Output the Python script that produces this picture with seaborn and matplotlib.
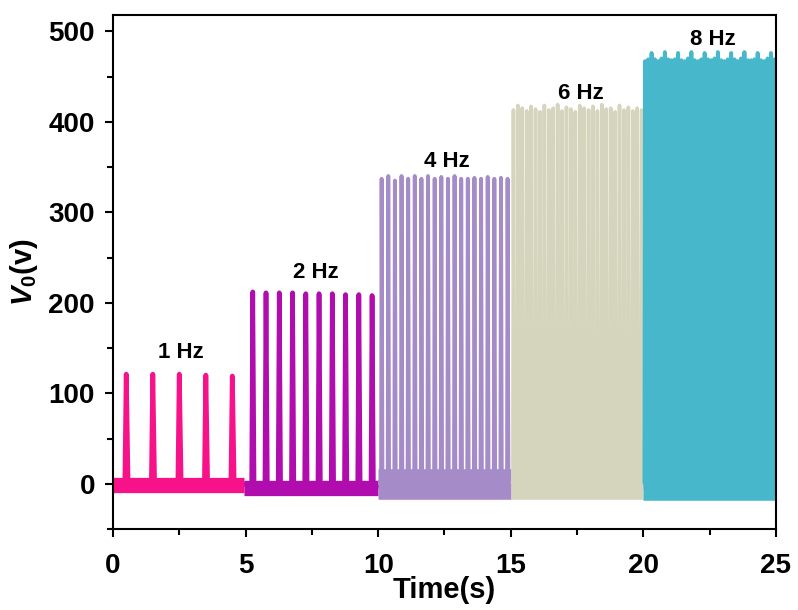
import matplotlib.pyplot as plt
import numpy as np
import pandas as pd
import seaborn as sns
from matplotlib.ticker import MultipleLocator

# --------------------------------------
# Output voltage at different frequencies
# --------------------------------------
freqs = [1, 2, 4, 6, 8]
freq_labels = ["1 Hz", "2 Hz", "4 Hz", "6 Hz", "8 Hz"]
seg_start = [0.0, 4.95, 10.0, 15.0, 20.0]     # s
seg_end = [4.95, 10.0, 15.0, 20.0, 25.0]      # s
first_peak = [0.5, 5.27, 10.13, 15.10, 20.06]  # s

peaks_1hz = [121, 121, 121, 120, 119]
peaks_2hz = [212, 211, 211, 211, 210, 210, 210, 209, 209, 208]
peaks_4hz = [337, 340, 335, 340, 337, 340, 337, 340, 337, 339,
             337, 340, 337, 337, 338, 337, 339, 337, 338, 337]
peaks_6hz = [413, 418, 415, 412, 417, 414, 411, 418, 413, 415,
             419, 412, 416, 414, 411, 418, 415, 413, 417, 412,
             419, 414, 415, 411, 418, 413, 416, 412, 415, 413]
peaks_8hz = [467, 469, 476, 469, 467, 470, 477, 469, 468, 469,
             476, 468, 467, 470, 477, 468, 467, 469, 476, 469,
             468, 470, 477, 468, 467, 469, 476, 469, 467, 470,
             477, 468, 468, 469, 476, 468, 467, 470, 476, 469]
peak_lists = [peaks_1hz, peaks_2hz, peaks_4hz, peaks_6hz, peaks_8hz]

# baseline level just after a spike and just before the next one (V)
base_after = [-7, -9, -4, -4, -6]
base_before = [2, -1, 2, 1, 0]
# mean level of the noisy baseline band (V)
band_level = [-1, -5, 0, 0, -1]

colors = ["#F8128A", "#B10DAE", "#A58BC7", "#D4D5BC", "#47B8CB"]
rise = [0.05, 0.04, 0.02, 0.02, 0.02]
fall = [0.07, 0.05, 0.03, 0.03, 0.03]
pulse_lw = [3.5, 3.4, 2.8, 2.6, 2.8]
band_lw = [11, 11, 22, 22, 22]
label_xy = [(2.55, 145), (7.65, 233), (12.6, 356), (17.65, 431), (22.6, 491)]


def trace(i):
    t = first_peak[i] + np.arange(len(peak_lists[i])) / freqs[i]
    px, py = [seg_start[i]], [base_before[i]]
    for tk, h in zip(t, peak_lists[i]):
        px += [tk - rise[i], tk, tk + fall[i]]
        py += [base_before[i], h, base_after[i]]
    px.append(seg_end[i]); py.append(base_before[i])
    pulse = pd.DataFrame({"time": px, "volt": py})
    band = pd.DataFrame({"time": [seg_start[i], seg_end[i]],
                         "volt": [band_level[i], band_level[i]]})
    return pulse, band


sns.set_style("ticks")
plt.rcParams['font.family'] = ['Liberation Sans', 'DejaVu Sans']
plt.rcParams['mathtext.fontset'] = 'custom'
plt.rcParams['mathtext.it'] = 'Liberation Sans:italic:bold'
plt.rcParams['mathtext.rm'] = 'Liberation Sans:bold'
for key in ['text.color', 'axes.labelcolor', 'xtick.color', 'ytick.color',
            'axes.edgecolor']:
    plt.rcParams[key] = 'black'

fig = plt.figure(figsize=(7.98, 6.10), dpi=100)
ax = fig.add_axes([0.1416, 0.1328, 0.8308, 0.8426])

for i in range(len(freqs)):
    pulse, band = trace(i)
    sns.lineplot(data=band, x="time", y="volt", sort=False, estimator=None,
                 color=colors[i], linewidth=band_lw[i],
                 solid_capstyle="butt", ax=ax)
    sns.lineplot(data=pulse, x="time", y="volt", sort=False, estimator=None,
                 color=colors[i], linewidth=pulse_lw[i],
                 solid_capstyle="butt", ax=ax)
    ax.text(label_xy[i][0], label_xy[i][1], freq_labels[i], ha="center",
            va="center", fontsize=16, fontweight="bold")

ax.set_xlim(0, 25)
ax.set_ylim(-50, 518)
ax.set_xticks(range(0, 26, 5))
ax.set_yticks(range(0, 501, 100))
ax.xaxis.set_minor_locator(MultipleLocator(2.5))
ax.yaxis.set_minor_locator(MultipleLocator(50))

for s in ax.spines.values():
    s.set_linewidth(1.5)
ax.tick_params(which="major", direction="out", length=6, width=1.5,
               labelsize=20)
ax.tick_params(which="minor", direction="out", length=4, width=1.5)
ax.tick_params(axis="x", pad=11)
ax.tick_params(axis="y", pad=7)
for lab in ax.get_xticklabels() + ax.get_yticklabels():
    lab.set_fontweight("bold")

ax.set_xlabel("Time(s)", fontsize=21, fontweight="bold", labelpad=-2)
ax.set_ylabel(r"$V_0$(v)", fontsize=21, fontweight="bold", labelpad=6)

fig.savefig("out.png", dpi=100)
